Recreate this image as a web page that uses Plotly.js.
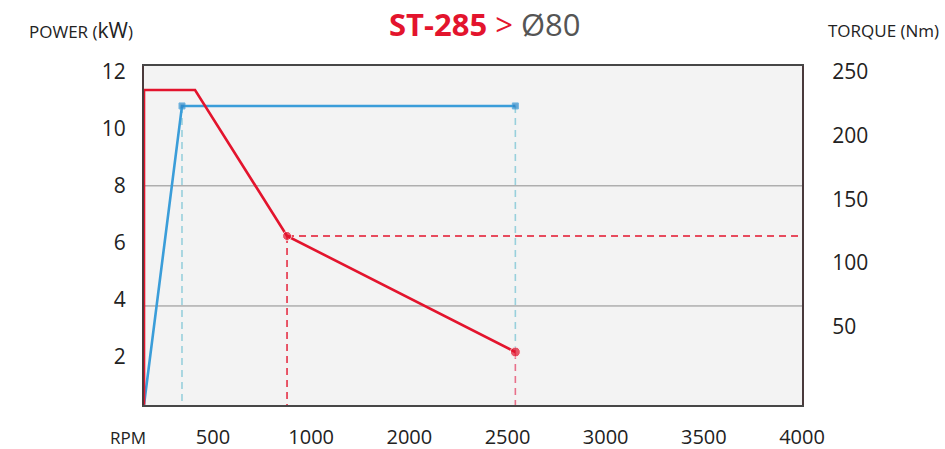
<!DOCTYPE html>
<html>
<head>
<meta charset="utf-8">
<script src="https://cdn.plot.ly/plotly-3.0.1.min.js"></script>
<style>html,body{margin:0;padding:0;background:#fff;}#chart{width:945px;height:449px;}</style>
</head>
<body>
<div id="chart"></div>
<script>
// x positions are in tick-slot units: slot k carries the k-th label below
var xTickPos = [1, 2, 3, 4, 5, 6, 7];
var xTickLabels = ['500', '1000', '2000', '2500', '3000', '3500', '4000'];
var powerTicks = [2, 4, 6, 8, 10, 12];
var torqueTicks = [50, 100, 150, 200, 250];

// Power curve (kW, left axis)
var powerX = [0.297, 0.684, 4.08];
var powerKW = [0.32, 10.8, 10.8];

// Torque curve (Nm, right axis)
var torqueX = [0.297, 0.297, 0.817, 1.754, 4.08];
var torqueNm = [-11, 235.6, 235.6, 121.3, 30.4];

// Reference gridlines (kW)
var gridKW = [8, 3.79];

var xRange = [0.297, 7.0];
var yRange = [0.319, 12.2];
var y2Range = [-11.1, 254.4];

var RED = '#e3142d';
var BLUE = '#3a9dd9';
var LBLUE = '#98d0dc';
var font = 'Open Sans, Noto Sans, sans-serif';

function torqueToKW(t) {
  return (t - y2Range[0]) / (y2Range[1] - y2Range[0]) * (yRange[1] - yRange[0]) + yRange[0];
}

var traces = [];
// dashed guides
traces.push({x: [powerX[1], powerX[1]], y: [powerKW[1], yRange[0]], yaxis: 'y', mode: 'lines',
  line: {color: LBLUE, width: 1.6, dash: '7px,5px'}, hoverinfo: 'skip', showlegend: false});
traces.push({x: [powerX[2], powerX[2]], y: [powerKW[2], torqueToKW(torqueNm[4])], yaxis: 'y', mode: 'lines',
  line: {color: LBLUE, width: 1.6, dash: '7px,5px'}, hoverinfo: 'skip', showlegend: false});
traces.push({x: [torqueX[4], torqueX[4]], y: [torqueNm[4], y2Range[0]], yaxis: 'y2', mode: 'lines',
  line: {color: '#e8708a', width: 1.6, dash: '7px,5px'}, hoverinfo: 'skip', showlegend: false});
traces.push({x: [torqueX[3], torqueX[3]], y: [torqueNm[3], y2Range[0]], yaxis: 'y2', mode: 'lines',
  line: {color: RED, width: 1.4, dash: '7px,5px'}, hoverinfo: 'skip', showlegend: false});
traces.push({x: [torqueX[3], xRange[1]], y: [torqueNm[3], torqueNm[3]], yaxis: 'y2', mode: 'lines',
  line: {color: RED, width: 1.4, dash: '7px,5px'}, hoverinfo: 'skip', showlegend: false});
// power
traces.push({x: powerX, y: powerKW, yaxis: 'y', mode: 'lines+markers', name: 'Power',
  line: {color: BLUE, width: 2.6},
  marker: {symbol: 'square', size: [0, 6, 6], color: '#2d87c8'}, showlegend: false});
// torque
traces.push({x: torqueX, y: torqueNm, yaxis: 'y2', mode: 'lines+markers', name: 'Torque',
  line: {color: RED, width: 2.6},
  marker: {size: [0, 0, 0, 9, 10], color: RED}, showlegend: false});

var shapes = gridKW.map(function (g) {
  return {type: 'line', xref: 'paper', x0: 0, x1: 1, yref: 'y', y0: g, y1: g,
    line: {color: '#8c8c8c', width: 1}, layer: 'below'};
});

var layout = {
  width: 945, height: 449,
  margin: {l: 144, r: 143, t: 66, b: 44},
  paper_bgcolor: '#ffffff',
  plot_bgcolor: '#f3f3f3',
  font: {family: font, color: '#222'},
  title: {
    text: '<b>ST-285</b> > <span style="color:#555">Ø80</span>',
    font: {family: font, size: 31, color: RED},
    x: 0.513, xanchor: 'center', xref: 'container',
    y: 0.945, yanchor: 'middle', yref: 'container'
  },
  xaxis: {
    range: xRange, tickvals: xTickPos, ticktext: xTickLabels,
    showgrid: false, zeroline: false,
    showline: true, mirror: true, linecolor: '#474747', linewidth: 2,
    ticks: 'outside', ticklen: 13, tickcolor: 'rgba(0,0,0,0)',
    tickfont: {size: 20, color: '#222'}, fixedrange: true
  },
  yaxis: {
    range: yRange, tickvals: powerTicks,
    showgrid: false, zeroline: false,
    showline: true, mirror: true, linecolor: '#4a3a3c', linewidth: 2,
    ticks: 'outside', ticklen: 12, tickcolor: 'rgba(0,0,0,0)',
    tickfont: {size: 21, color: '#222'}, fixedrange: true
  },
  yaxis2: {
    range: y2Range, tickvals: torqueTicks, overlaying: 'y', side: 'right',
    showgrid: false, zeroline: false, showline: false,
    ticks: 'outside', ticklen: 25, tickcolor: 'rgba(0,0,0,0)',
    tickfont: {size: 21, color: '#222'}, fixedrange: true
  },
  shapes: shapes,
  annotations: [
    {text: 'POWER (<span style="font-size:21px">kW</span>)', xref: 'paper', yref: 'paper',
      x: -0.1774, y: 1.106, xanchor: 'left', yanchor: 'middle', showarrow: false,
      font: {family: font, size: 17, color: '#222'}},
    {text: 'TORQUE (Nm)', xref: 'paper', yref: 'paper',
      x: 1.0367, y: 1.106, xanchor: 'left', yanchor: 'middle', showarrow: false,
      font: {family: font, size: 17, color: '#222'}},
    {text: 'RPM', xref: 'paper', yref: 'paper',
      x: -0.0245, y: -0.0944, xanchor: 'center', yanchor: 'middle', showarrow: false,
      font: {family: font, size: 17, color: '#222'}}
  ]
};

Plotly.newPlot('chart', traces, layout, {staticPlot: true, displayModeBar: false});
</script>
</body>
</html>
